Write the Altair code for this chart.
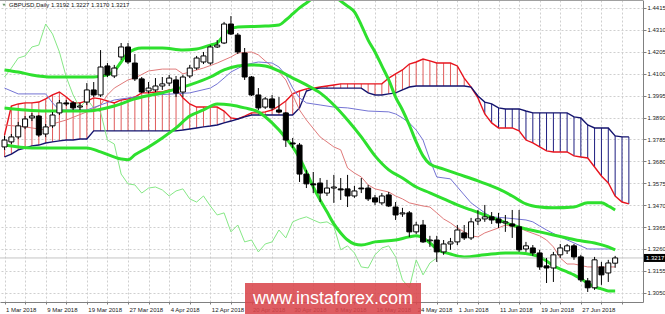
import json
import altair as alt
import pandas as pd

# ---------------- data ----------------
date_labels = ["1 Mar 2018", "9 Mar 2018", "19 Mar 2018", "27 Mar 2018", "4 Apr 2018",
               "12 Apr 2018", "20 Apr 2018", "30 Apr 2018", "8 May 2018", "16 May 2018",
               "24 May 2018", "1 Jun 2018", "11 Jun 2018", "19 Jun 2018", "27 Jun 2018"]
y_ticks = [1.4415, 1.4310, 1.4205, 1.4100, 1.3995, 1.3890, 1.3785, 1.3680, 1.3575,
           1.3470, 1.3365, 1.3260, 1.3155, 1.3050]

opens = [1.3749, 1.3773, 1.3797, 1.3845, 1.3888, 1.3897, 1.3811, 1.3850, 1.3912, 1.3960,
         1.3960, 1.3940, 1.3964, 1.4022, 1.3998, 1.4137, 1.4089, 1.4180, 1.4228, 1.4151,
         1.4075, 1.4017, 1.4022, 1.4041, 1.4055, 1.4070, 1.4012, 1.4089, 1.4127, 1.4156,
         1.4151, 1.4228, 1.4247, 1.4338, 1.4285, 1.4199, 1.4084, 1.3998, 1.3940, 1.3979,
         1.3926, 1.3912, 1.3768, 1.3758, 1.3619, 1.3572, 1.3576, 1.3528, 1.3552, 1.3548,
         1.3548, 1.3514, 1.3552, 1.3552, 1.3505, 1.3481, 1.3519, 1.3461, 1.3428, 1.3433,
         1.3342, 1.3375, 1.3299, 1.3303, 1.3246, 1.3284, 1.3294, 1.3337, 1.3313, 1.3394,
         1.3404, 1.3414, 1.3404, 1.3385, 1.3380, 1.3366, 1.3260, 1.3265, 1.3241, 1.3179,
         1.3169, 1.3232, 1.3251, 1.3275, 1.3222, 1.3107, 1.3074, 1.3174, 1.3145, 1.3192]
highs = [1.3802, 1.3811, 1.3869, 1.3897, 1.3912, 1.3902, 1.3859, 1.3916, 1.3974, 1.3974,
         1.3969, 1.3960, 1.4055, 1.4060, 1.4213, 1.4151, 1.4142, 1.4247, 1.4247, 1.4194,
         1.4084, 1.4060, 1.4079, 1.4084, 1.4094, 1.4089, 1.4094, 1.4142, 1.4185, 1.4204,
         1.4237, 1.4261, 1.4348, 1.4376, 1.4295, 1.4223, 1.4089, 1.4031, 1.3988, 1.3998,
         1.3988, 1.3916, 1.3792, 1.3768, 1.3639, 1.3629, 1.3600, 1.3591, 1.3615, 1.3600,
         1.3615, 1.3562, 1.3600, 1.3567, 1.3519, 1.3528, 1.3533, 1.3485, 1.3457, 1.3442,
         1.3390, 1.3399, 1.3323, 1.3323, 1.3303, 1.3313, 1.3375, 1.3375, 1.3409, 1.3447,
         1.3471, 1.3437, 1.3433, 1.3423, 1.3447, 1.3447, 1.3294, 1.3279, 1.3256, 1.3217,
         1.3246, 1.3284, 1.3284, 1.3284, 1.3232, 1.3121, 1.3222, 1.3198, 1.3208, 1.3227]
lows = [1.3735, 1.3763, 1.3787, 1.3835, 1.3873, 1.3797, 1.3797, 1.3840, 1.3902, 1.3945,
        1.3926, 1.3926, 1.3950, 1.3988, 1.3988, 1.4084, 1.4079, 1.4166, 1.4146, 1.4065,
        1.4007, 1.4007, 1.4012, 1.4022, 1.4041, 1.3988, 1.3988, 1.4079, 1.4118, 1.4146,
        1.4142, 1.4223, 1.4242, 1.4285, 1.4194, 1.4070, 1.3993, 1.3926, 1.3931, 1.3926,
        1.3912, 1.3749, 1.3744, 1.3581, 1.3552, 1.3528, 1.3485, 1.3514, 1.3481, 1.3495,
        1.3461, 1.3505, 1.3528, 1.3490, 1.3471, 1.3471, 1.3461, 1.3399, 1.3414, 1.3318,
        1.3332, 1.3289, 1.3270, 1.3198, 1.3232, 1.3256, 1.3279, 1.3303, 1.3303, 1.3375,
        1.3390, 1.3380, 1.3361, 1.3342, 1.3313, 1.3246, 1.3246, 1.3227, 1.3160, 1.3097,
        1.3102, 1.3217, 1.3236, 1.3208, 1.3102, 1.3054, 1.3064, 1.3088, 1.3102, 1.3170]
closes = [1.3782, 1.3797, 1.3850, 1.3883, 1.3897, 1.3806, 1.3845, 1.3902, 1.3960, 1.3955,
          1.3936, 1.3945, 1.4022, 1.3998, 1.4132, 1.4094, 1.4127, 1.4228, 1.4156, 1.4075,
          1.4012, 1.4031, 1.4041, 1.4051, 1.4079, 1.4007, 1.4084, 1.4127, 1.4175, 1.4185,
          1.4228, 1.4237, 1.4338, 1.4290, 1.4204, 1.4084, 1.3998, 1.3936, 1.3979, 1.3936,
          1.3916, 1.3782, 1.3763, 1.3619, 1.3572, 1.3567, 1.3528, 1.3552, 1.3557, 1.3543,
          1.3514, 1.3538, 1.3548, 1.3500, 1.3485, 1.3514, 1.3466, 1.3423, 1.3433, 1.3342,
          1.3375, 1.3294, 1.3303, 1.3246, 1.3284, 1.3294, 1.3351, 1.3313, 1.3390, 1.3404,
          1.3414, 1.3399, 1.3385, 1.3390, 1.3370, 1.3256, 1.3275, 1.3241, 1.3174, 1.3169,
          1.3232, 1.3265, 1.3275, 1.3222, 1.3112, 1.3074, 1.3208, 1.3136, 1.3193, 1.3217]

# Ichimoku cloud (Senkou Span A / B), one value per bar incl. 2 bars ahead
span_a = [1.3806, 1.3945, 1.3955, 1.3960, 1.3960, 1.3964, 1.3979, 1.3998, 1.4012, 1.3988,
          1.3960, 1.3960, 1.3969, 1.3984, 1.3979, 1.3969, 1.3960, 1.3974, 1.3979, 1.3988,
          1.4008, 1.4008, 1.4012, 1.4012, 1.4022, 1.4027, 1.3984, 1.3955, 1.3940, 1.3940,
          1.3940, 1.3940, 1.3921, 1.3888, 1.3883, 1.3897, 1.3912, 1.3912, 1.3917, 1.3926,
          1.3945, 1.3969, 1.4003, 1.4017, 1.4027, 1.4031, 1.4036, 1.4041, 1.4046, 1.4051,
          1.4051, 1.4051, 1.4051, 1.4051, 1.4051, 1.4051, 1.4079, 1.4099, 1.4118, 1.4146,
          1.4156, 1.4170, 1.4161, 1.4151, 1.4151, 1.4151, 1.4137, 1.4079, 1.4036, 1.3984,
          1.3907, 1.3864, 1.3840, 1.3840, 1.3840, 1.3826, 1.3782, 1.3768, 1.3749, 1.3730,
          1.3725, 1.3725, 1.3725, 1.3706, 1.3701, 1.3696, 1.3653, 1.3610, 1.3576, 1.3514,
          1.3485, 1.3476]
span_b = [1.3701, 1.3715, 1.3735, 1.3744, 1.3754, 1.3758, 1.3768, 1.3773, 1.3778, 1.3782,
          1.3782, 1.3787, 1.3787, 1.3826, 1.3826, 1.3826, 1.3826, 1.3826, 1.3826, 1.3826,
          1.3826, 1.3826, 1.3826, 1.3826, 1.3826, 1.3826, 1.3830, 1.3835, 1.3840, 1.3845,
          1.3849, 1.3854, 1.3864, 1.3873, 1.3883, 1.3893, 1.3902, 1.3902, 1.3902, 1.3902,
          1.3902, 1.3902, 1.3902, 1.3936, 1.4017, 1.4027, 1.4031, 1.4031, 1.4031, 1.4031,
          1.4031, 1.4031, 1.4031, 1.4008, 1.3998, 1.3998, 1.4003, 1.4008, 1.4022, 1.4036,
          1.4041, 1.4041, 1.4041, 1.4041, 1.4041, 1.4041, 1.4041, 1.4041, 1.4036, 1.3993,
          1.3964, 1.3955, 1.3936, 1.3931, 1.3931, 1.3931, 1.3921, 1.3912, 1.3912, 1.3912,
          1.3912, 1.3912, 1.3912, 1.3893, 1.3888, 1.3854, 1.3840, 1.3840, 1.3840, 1.3802,
          1.3797, 1.3797]

tenkan_i = [0, 3, 6, 7, 9, 12, 14, 15, 16, 18, 19, 21, 23, 25, 26, 27, 29, 31, 33, 34,
            36, 37, 38, 40, 41, 42, 43, 44, 46, 48, 49, 50, 51, 52, 53, 54, 56, 57, 58, 59,
            61, 62, 63, 64, 65, 66, 67, 68, 69, 70, 72, 73, 75, 76, 78, 79, 80, 81, 82, 83,
            85, 89]
tenkan_v = [1.3854, 1.3845, 1.3830, 1.3859, 1.3878, 1.3917, 1.3950, 1.3998, 1.4031, 1.4070,
            1.4079, 1.4113, 1.4122, 1.4122, 1.4099, 1.4108, 1.4127, 1.4151, 1.4180, 1.4199,
            1.4204, 1.4190, 1.4161, 1.4108, 1.4070, 1.3998, 1.3926, 1.3878, 1.3797, 1.3749,
            1.3735, 1.3648, 1.3624, 1.3605, 1.3567, 1.3548, 1.3533, 1.3514, 1.3500, 1.3481,
            1.3466, 1.3461, 1.3433, 1.3404, 1.3385, 1.3361, 1.3342, 1.3323, 1.3318, 1.3337,
            1.3361, 1.3375, 1.3361, 1.3347, 1.3323, 1.3303, 1.3270, 1.3217, 1.3188, 1.3188,
            1.3174, 1.3174]
kijun_i = [0, 2, 6, 7, 8, 12, 14, 16, 19, 22, 27, 30, 31, 32, 33, 35, 37, 39, 40, 41,
           42, 43, 44, 46, 48, 50, 53, 56, 57, 58, 59, 60, 61, 62, 63, 65, 67, 68, 69, 70,
           71, 73, 76, 77, 78, 79, 81, 83, 85, 89]
kijun_v = [1.4031, 1.4003, 1.4003, 1.3960, 1.3926, 1.3926, 1.3950, 1.3974, 1.3988, 1.3998,
           1.4008, 1.4031, 1.4051, 1.4079, 1.4108, 1.4142, 1.4156, 1.4151, 1.4132, 1.4094,
           1.4031, 1.3984, 1.3960, 1.3950, 1.3940, 1.3936, 1.3921, 1.3917, 1.3907, 1.3888,
           1.3864, 1.3830, 1.3782, 1.3687, 1.3605, 1.3596, 1.3519, 1.3481, 1.3457, 1.3433,
           1.3414, 1.3409, 1.3399, 1.3390, 1.3370, 1.3351, 1.3318, 1.3289, 1.3260, 1.3260]

# Bollinger bands
bb_up_i = [0, 2, 4, 7, 10, 13, 15, 16, 17, 18, 20, 23, 26, 28, 30, 31, 32, 33, 34, 38,
           40, 41, 42, 43, 44, 45, 46, 47, 48, 49, 50, 51, 52, 53, 54, 55, 56, 57, 58, 59,
           60, 61, 62, 64, 66, 69, 72, 74, 76, 78, 80, 83, 85, 87, 88, 89]
bb_up_v = [1.4118, 1.4108, 1.4094, 1.4084, 1.4084, 1.4084, 1.4094, 1.4113, 1.4156, 1.4199,
           1.4223, 1.4223, 1.4213, 1.4218, 1.4237, 1.4247, 1.4285, 1.4314, 1.4324, 1.4328,
           1.4333, 1.4357, 1.4386, 1.4415, 1.4439, 1.4463, 1.4482, 1.4487, 1.4472, 1.4448,
           1.4424, 1.4396, 1.4333, 1.4261, 1.4204, 1.4137, 1.4070, 1.3988, 1.3926, 1.3854,
           1.3773, 1.3706, 1.3667, 1.3643, 1.3620, 1.3586, 1.3548, 1.3514, 1.3476, 1.3461,
           1.3457, 1.3461, 1.3481, 1.3481, 1.3466, 1.3447]
bb_mid_i = [0, 3, 6, 12, 16, 19, 20, 23, 27, 30, 32, 34, 36, 38, 40, 42, 44, 46, 48, 50,
            52, 54, 56, 58, 60, 62, 64, 66, 68, 70, 72, 74, 76, 78, 80, 82, 84, 86, 88, 89]
bb_mid_v = [1.3936, 1.3926, 1.3921, 1.3921, 1.3945, 1.3979, 1.3988, 1.4008, 1.4046, 1.4084,
            1.4118, 1.4137, 1.4142, 1.4137, 1.4113, 1.4079, 1.4046, 1.4008, 1.3950, 1.3878,
            1.3797, 1.3706, 1.3639, 1.3600, 1.3557, 1.3529, 1.3500, 1.3471, 1.3447, 1.3423,
            1.3399, 1.3375, 1.3356, 1.3342, 1.3327, 1.3313, 1.3299, 1.3289, 1.3270, 1.3256]
bb_low_i = [0, 4, 8, 12, 14, 17, 18, 19, 21, 23, 25, 27, 29, 31, 33, 35, 37, 39, 41, 42,
            43, 44, 45, 46, 47, 48, 49, 50, 51, 52, 54, 57, 59, 60, 61, 62, 63, 65, 67, 70,
            73, 75, 77, 78, 79, 80, 81, 82, 83, 84, 85, 86, 87, 88, 89]
bb_low_v = [1.3758, 1.3744, 1.3744, 1.3744, 1.3725, 1.3691, 1.3687, 1.3711, 1.3749, 1.3792,
            1.3840, 1.3897, 1.3926, 1.3955, 1.3950, 1.3936, 1.3917, 1.3864, 1.3792, 1.3749,
            1.3696, 1.3629, 1.3557, 1.3495, 1.3438, 1.3380, 1.3337, 1.3303, 1.3284, 1.3279,
            1.3294, 1.3303, 1.3318, 1.3323, 1.3313, 1.3289, 1.3260, 1.3236, 1.3222, 1.3232,
            1.3241, 1.3241, 1.3232, 1.3222, 1.3203, 1.3179, 1.3164, 1.3150, 1.3136, 1.3117,
            1.3097, 1.3078, 1.3069, 1.3059, 1.3059]

chikou_shift = 26
header = "GBPUSD,Daily  1.3192 1.3227 1.3170 1.3217"
watermark = "www.instaforex.com"

# ---------------- tables ----------------
n = len(closes)
candles = pd.DataFrame({"i": list(range(n)), "open": opens, "high": highs,
                        "low": lows, "close": closes})
cloud = pd.DataFrame({"i": list(range(len(span_a))), "a": span_a, "b": span_b})
chikou = pd.DataFrame({"i": list(range(n - chikou_shift)), "v": closes[chikou_shift:]})
tenkan = pd.DataFrame({"i": tenkan_i, "v": tenkan_v})
kijun = pd.DataFrame({"i": kijun_i, "v": kijun_v})
bb_up = pd.DataFrame({"i": bb_up_i, "v": bb_up_v})
bb_mid = pd.DataFrame({"i": bb_mid_i, "v": bb_mid_v})
bb_low = pd.DataFrame({"i": bb_low_i, "v": bb_low_v})
last = pd.DataFrame({"p": [closes[-1]], "label": [f"{closes[-1]:.4f}"]})
one = pd.DataFrame({"t": [header], "w": [watermark]})

FONT = "Liberation Sans"
xs = alt.Scale(domain=[0.0717, 92.33], nice=False, zero=False)
ys = alt.Scale(domain=[1.3006, 1.4453], nice=False, zero=False)

label_expr = ("(datum.value % 6 == 0 && datum.value <= 84) ? "
              + json.dumps(date_labels) + "[datum.value / 6] : ''")
xax = alt.Axis(values=list(range(0, 93, 3)), labelExpr=label_expr, title=None,
               grid=True, gridDash=[2, 2], gridColor="#cfcfcf", gridWidth=1,
               tickSize=2, tickColor="#808080", domainColor="#808080",
               labelFont=FONT, labelFontSize=6, labelColor="#222222",
               labelAlign="left", labelOffset=1, labelPadding=2,
               labelOverlap=False, labelFlush=False)
yax = alt.Axis(orient="right", values=y_ticks, format=".4f", title=None,
               grid=True, gridDash=[2, 2], gridColor="#cfcfcf", gridWidth=1,
               tickSize=3, tickColor="#808080", domainColor="#808080",
               labelFont=FONT, labelFontSize=6, labelColor="#222222",
               labelPadding=1, labelOverlap=False, labelFlush=False)


def X(f="i"):
    return alt.X(f"{f}:Q", scale=xs, axis=xax)


def Y(f):
    return alt.Y(f"{f}:Q", scale=ys, axis=yax)


hatch = alt.Chart(cloud).mark_rule(strokeWidth=1, clip=True).encode(
    x=X(), y=Y("a"), y2="b",
    color=alt.condition("datum.a >= datum.b", alt.value("#e05a5a"), alt.value("#1e1e80")))
span_a_line = alt.Chart(cloud).mark_line(color="#e8141e", strokeWidth=1.4, clip=True).encode(
    x=X(), y=Y("a"))
span_b_line = alt.Chart(cloud).mark_line(color="#14146e", strokeWidth=1.4, clip=True).encode(
    x=X(), y=Y("b"))
chikou_line = alt.Chart(chikou).mark_line(color="#86e886", strokeWidth=1, clip=True).encode(
    x=X(), y=Y("v"))
tenkan_line = alt.Chart(tenkan).mark_line(color="#e07a7a", strokeWidth=1, clip=True).encode(
    x=X(), y=Y("v"))
kijun_line = alt.Chart(kijun).mark_line(color="#7474d4", strokeWidth=1, clip=True).encode(
    x=X(), y=Y("v"))


def bb(df):
    return alt.Chart(df).mark_line(color="#2ee02e", strokeWidth=3, clip=True,
                                   interpolate="monotone").encode(x=X(), y=Y("v"))


price_line = alt.Chart(last).mark_rule(color="#c4c4c4", strokeWidth=1).encode(y=Y("p"))

wicks = alt.Chart(candles).mark_rule(color="black", strokeWidth=1, clip=True).encode(
    x=X(), y=Y("low"), y2="high")
bodies = alt.Chart(candles).mark_bar(size=5, stroke="black", strokeWidth=1, clip=True).encode(
    x=X(), y=Y("open"), y2="close",
    fill=alt.condition("datum.close >= datum.open", alt.value("white"), alt.value("black")))

price_box = alt.Chart(last).mark_rect(color="black", yOffset=-4, y2Offset=4).encode(
    x=alt.value(644), x2=alt.value(665), y=Y("p"), y2="p")
price_txt = alt.Chart(last).mark_text(color="white", font=FONT, fontSize=6, align="left",
                                      baseline="middle").encode(
    x=alt.value(646), y=Y("p"), text="label:N")

top_border = alt.Chart(one).mark_rule(color="#a0a0a0", strokeWidth=1).encode(
    x=alt.value(0), x2=alt.value(643), y=alt.value(0.5))
icon = alt.Chart(one).mark_point(shape="triangle-down", filled=True, size=10,
                                 color="#2a6a2a").encode(x=alt.value(4), y=alt.value(5))
header_txt = alt.Chart(one).mark_text(font=FONT, fontSize=6, align="left", baseline="middle",
                                      color="#111111").encode(
    x=alt.value(9), y=alt.value(5), text="t:N")

wm_box = alt.Chart(one).mark_rect(color="#d9474c", opacity=0.88).encode(
    x=alt.value(245), x2=alt.value(421), y=alt.value(283), y2=alt.value(314))
wm_txt = alt.Chart(one).mark_text(font=FONT, fontSize=18, color="white", align="center",
                                  baseline="middle").encode(
    x=alt.value(333), y=alt.value(299), text="w:N")

chart = alt.layer(
    hatch, span_a_line, span_b_line, chikou_line, tenkan_line, kijun_line,
    bb(bb_up), bb(bb_mid), bb(bb_low), price_line, wicks, bodies,
    price_box, price_txt, top_border, icon, header_txt, wm_box, wm_txt
).properties(
    width=643, height=302,
    padding={"left": 0, "top": 0, "right": 22, "bottom": 12},
    autosize=alt.AutoSizeParams(type="none"),
    background="white",
).configure_view(stroke=None)

chart.save("out.html", embed_options={"renderer": "svg", "actions": False})
